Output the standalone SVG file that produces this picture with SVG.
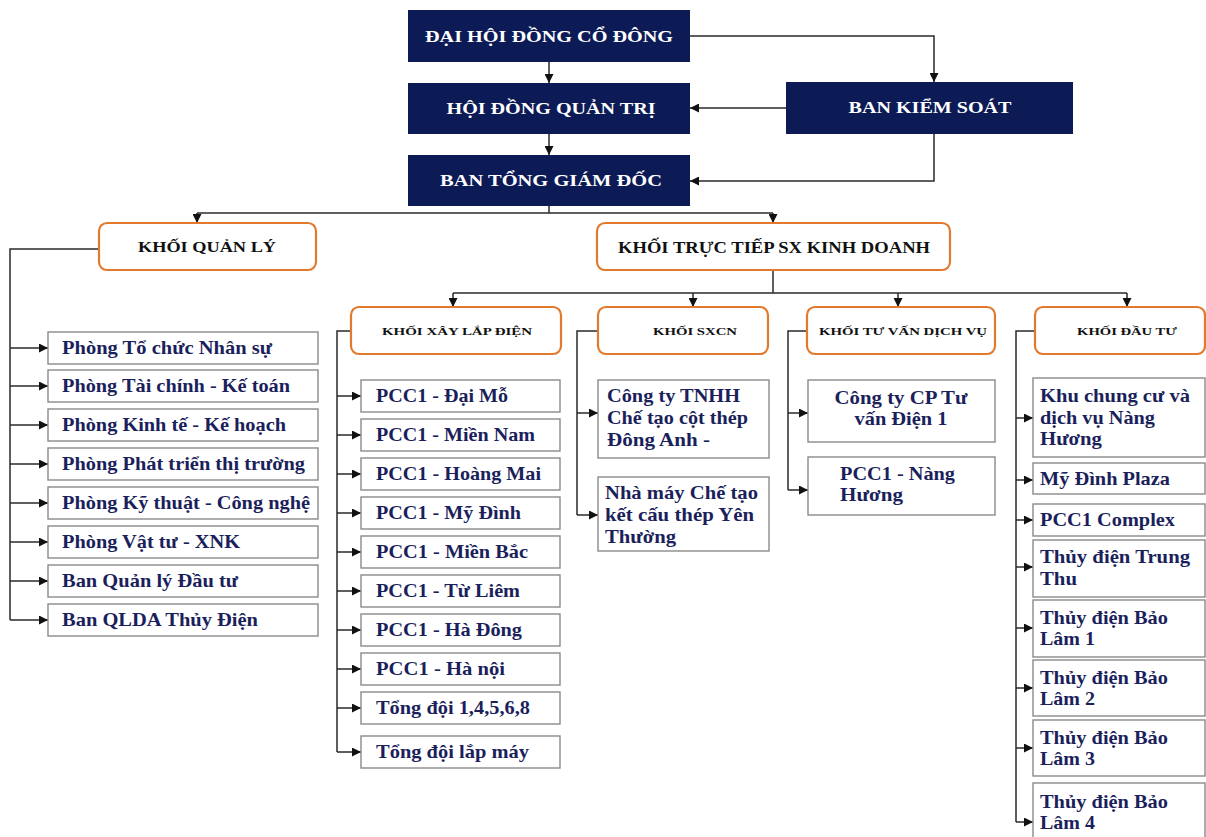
<svg xmlns="http://www.w3.org/2000/svg" width="1206" height="837" viewBox="0 0 1206 837">
<style>
.bg{fill:#ffffff}
.navy rect{fill:#0c1b56}
.navy text{fill:#ffffff;font-family:"Liberation Serif",serif;font-weight:bold;font-size:17px;text-anchor:middle}
.ob rect{fill:#ffffff;stroke:#e27a2d;stroke-width:2.2}
.ob text{fill:#111111;font-family:"Liberation Serif",serif;font-weight:bold;text-anchor:middle}
.cb rect{fill:#ffffff;stroke:#8a8a8a;stroke-width:1.4}
.cb text{fill:#1b1f5c;font-family:"Liberation Serif",serif;font-weight:bold;font-size:19px}
.conn path{fill:none;stroke:#2a2a2a;stroke-width:1.5}
</style>
<defs>
<marker id="ah" viewBox="0 0 10 10" refX="10" refY="5" markerWidth="9" markerHeight="9" markerUnits="userSpaceOnUse" orient="auto">
<path d="M0,0 L10,5 L0,10 z" fill="#111111"/>
</marker>
</defs>
<rect class="bg" x="0" y="0" width="1206" height="837"/>

<g class="conn">
<path d="M690,36 H934 V82" marker-end="url(#ah)"/>
<path d="M549,62 V83" marker-end="url(#ah)"/>
<path d="M549,134 V155" marker-end="url(#ah)"/>
<path d="M786,108 H690" marker-end="url(#ah)"/>
<path d="M934,134 V181 H690" marker-end="url(#ah)"/>
<path d="M549,206 V213"/>
<path d="M197,213 H773"/>
<path d="M197,213 V223" marker-end="url(#ah)"/>
<path d="M773,213 V223" marker-end="url(#ah)"/>
<path d="M773,270 V293"/>
<path d="M453,293 H1127"/>
<path d="M453,293 V307" marker-end="url(#ah)"/>
<path d="M693,293 V307" marker-end="url(#ah)"/>
<path d="M898,293 V307" marker-end="url(#ah)"/>
<path d="M1127,293 V307" marker-end="url(#ah)"/>
<path d="M99,249 H10 V620"/>
<path d="M10,348 H48" marker-end="url(#ah)"/>
<path d="M10,386 H48" marker-end="url(#ah)"/>
<path d="M10,425 H48" marker-end="url(#ah)"/>
<path d="M10,464 H48" marker-end="url(#ah)"/>
<path d="M10,503 H48" marker-end="url(#ah)"/>
<path d="M10,542 H48" marker-end="url(#ah)"/>
<path d="M10,581 H48" marker-end="url(#ah)"/>
<path d="M10,620 H48" marker-end="url(#ah)"/>
<path d="M351,331 H337 V752"/>
<path d="M337,396 H361" marker-end="url(#ah)"/>
<path d="M337,435 H361" marker-end="url(#ah)"/>
<path d="M337,474 H361" marker-end="url(#ah)"/>
<path d="M337,513 H361" marker-end="url(#ah)"/>
<path d="M337,552 H361" marker-end="url(#ah)"/>
<path d="M337,591 H361" marker-end="url(#ah)"/>
<path d="M337,630 H361" marker-end="url(#ah)"/>
<path d="M337,669 H361" marker-end="url(#ah)"/>
<path d="M337,708 H361" marker-end="url(#ah)"/>
<path d="M337,752 H361" marker-end="url(#ah)"/>
<path d="M598,331 H577 V515"/>
<path d="M577,413 H598" marker-end="url(#ah)"/>
<path d="M577,515 H598" marker-end="url(#ah)"/>
<path d="M807,331 H788 V490"/>
<path d="M788,413 H808" marker-end="url(#ah)"/>
<path d="M788,490 H808" marker-end="url(#ah)"/>
<path d="M1035,331 H1016 V822"/>
<path d="M1016,418 H1033" marker-end="url(#ah)"/>
<path d="M1016,480 H1033" marker-end="url(#ah)"/>
<path d="M1016,520 H1033" marker-end="url(#ah)"/>
<path d="M1016,567 H1033" marker-end="url(#ah)"/>
<path d="M1016,628 H1033" marker-end="url(#ah)"/>
<path d="M1016,688 H1033" marker-end="url(#ah)"/>
<path d="M1016,748 H1033" marker-end="url(#ah)"/>
<path d="M1016,822 H1033" marker-end="url(#ah)"/>
</g>

<g id="dhdcd" class="navy"><rect x="408" y="10" width="282" height="52"/><text x="549" y="42" textLength="248" lengthAdjust="spacingAndGlyphs">ĐẠI HỘI ĐỒNG CỔ ĐÔNG</text></g>
<g id="hdqt" class="navy"><rect x="408" y="83" width="282" height="51"/><text x="551" y="114" textLength="209" lengthAdjust="spacingAndGlyphs">HỘI ĐỒNG QUẢN TRỊ</text></g>
<g id="btgd" class="navy"><rect x="408" y="155" width="282" height="51"/><text x="551" y="186" textLength="222" lengthAdjust="spacingAndGlyphs">BAN TỔNG GIÁM ĐỐC</text></g>
<g id="bks" class="navy"><rect x="786" y="82" width="287" height="52"/><text x="930" y="113" textLength="163" lengthAdjust="spacingAndGlyphs">BAN KIỂM SOÁT</text></g>

<g id="kql" class="ob"><rect x="99" y="223" width="217" height="47" rx="8"/><text x="207" y="252" font-size="15" textLength="138" lengthAdjust="spacingAndGlyphs">KHỐI QUẢN LÝ</text></g>
<g id="ktt" class="ob"><rect x="597" y="223" width="353" height="47" rx="8"/><text x="774" y="253" font-size="16" textLength="312" lengthAdjust="spacingAndGlyphs">KHỐI TRỰC TIẾP SX KINH DOANH</text></g>
<g id="kxl" class="ob"><rect x="351" y="307" width="210" height="47" rx="8"/><text x="457" y="335" font-size="11" textLength="150" lengthAdjust="spacingAndGlyphs">KHỐI XÂY LẮP ĐIỆN</text></g>
<g id="ksxcn" class="ob"><rect x="598" y="307" width="170" height="47" rx="8"/><text x="695" y="335" font-size="11" textLength="84" lengthAdjust="spacingAndGlyphs">KHỐI SXCN</text></g>
<g id="ktv" class="ob"><rect x="807" y="307" width="188" height="47" rx="8"/><text x="903" y="335" font-size="11" textLength="168" lengthAdjust="spacingAndGlyphs">KHỐI TƯ VẤN DỊCH VỤ</text></g>
<g id="kdt" class="ob"><rect x="1035" y="307" width="170" height="47" rx="8"/><text x="1127" y="335" font-size="11" textLength="100" lengthAdjust="spacingAndGlyphs">KHỐI ĐẦU TƯ</text></g>

<g id="q1" class="cb"><rect x="48" y="332" width="270" height="32"/><text x="62" y="354" textLength="210" lengthAdjust="spacingAndGlyphs">Phòng Tổ chức Nhân sự</text></g>
<g id="q2" class="cb"><rect x="48" y="370" width="270" height="32"/><text x="62" y="392" textLength="228" lengthAdjust="spacingAndGlyphs">Phòng Tài chính - Kế toán</text></g>
<g id="q3" class="cb"><rect x="48" y="409" width="270" height="32"/><text x="62" y="431" textLength="224" lengthAdjust="spacingAndGlyphs">Phòng Kinh tế - Kế hoạch</text></g>
<g id="q4" class="cb"><rect x="48" y="448" width="270" height="32"/><text x="62" y="470" textLength="243" lengthAdjust="spacingAndGlyphs">Phòng Phát triển thị trường</text></g>
<g id="q5" class="cb"><rect x="48" y="487" width="270" height="32"/><text x="62" y="509" textLength="248" lengthAdjust="spacingAndGlyphs">Phòng Kỹ thuật - Công nghệ</text></g>
<g id="q6" class="cb"><rect x="48" y="526" width="270" height="32"/><text x="62" y="548" textLength="178" lengthAdjust="spacingAndGlyphs">Phòng Vật tư - XNK</text></g>
<g id="q7" class="cb"><rect x="48" y="565" width="270" height="32"/><text x="62" y="587" textLength="176" lengthAdjust="spacingAndGlyphs">Ban Quản lý Đầu tư</text></g>
<g id="q8" class="cb"><rect x="48" y="604" width="270" height="32"/><text x="62" y="626" textLength="196" lengthAdjust="spacingAndGlyphs">Ban QLDA Thủy Điện</text></g>

<g id="x1" class="cb"><rect x="361" y="380" width="199" height="32"/><text x="376" y="402" textLength="132" lengthAdjust="spacingAndGlyphs">PCC1 - Đại Mỗ</text></g>
<g id="x2" class="cb"><rect x="361" y="419" width="199" height="32"/><text x="376" y="441" textLength="159" lengthAdjust="spacingAndGlyphs">PCC1 - Miền Nam</text></g>
<g id="x3" class="cb"><rect x="361" y="458" width="199" height="32"/><text x="376" y="480" textLength="165" lengthAdjust="spacingAndGlyphs">PCC1 - Hoàng Mai</text></g>
<g id="x4" class="cb"><rect x="361" y="497" width="199" height="32"/><text x="376" y="519" textLength="145" lengthAdjust="spacingAndGlyphs">PCC1 - Mỹ Đình</text></g>
<g id="x5" class="cb"><rect x="361" y="536" width="199" height="32"/><text x="376" y="558" textLength="152" lengthAdjust="spacingAndGlyphs">PCC1 - Miền Bắc</text></g>
<g id="x6" class="cb"><rect x="361" y="575" width="199" height="32"/><text x="376" y="597" textLength="144" lengthAdjust="spacingAndGlyphs">PCC1 - Từ Liêm</text></g>
<g id="x7" class="cb"><rect x="361" y="614" width="199" height="32"/><text x="376" y="636" textLength="146" lengthAdjust="spacingAndGlyphs">PCC1 - Hà Đông</text></g>
<g id="x8" class="cb"><rect x="361" y="653" width="199" height="32"/><text x="376" y="675" textLength="129" lengthAdjust="spacingAndGlyphs">PCC1 - Hà nội</text></g>
<g id="x9" class="cb"><rect x="361" y="692" width="199" height="32"/><text x="376" y="714" textLength="154" lengthAdjust="spacingAndGlyphs">Tổng đội 1,4,5,6,8</text></g>
<g id="x10" class="cb"><rect x="361" y="736" width="199" height="32"/><text x="376" y="758" textLength="153" lengthAdjust="spacingAndGlyphs">Tổng đội lắp máy</text></g>

<g id="s1" class="cb"><rect x="598" y="380" width="171" height="78"/>
<text x="607" y="402" textLength="133" lengthAdjust="spacingAndGlyphs">Công ty TNHH</text>
<text x="607" y="424" textLength="141" lengthAdjust="spacingAndGlyphs">Chế tạo cột thép</text>
<text x="607" y="446" textLength="103" lengthAdjust="spacingAndGlyphs">Đông Anh -</text></g>
<g id="s2" class="cb"><rect x="598" y="477" width="171" height="74"/>
<text x="605" y="499" textLength="153" lengthAdjust="spacingAndGlyphs">Nhà máy Chế tạo</text>
<text x="605" y="521" textLength="149" lengthAdjust="spacingAndGlyphs">kết cấu thép Yên</text>
<text x="605" y="543" textLength="71" lengthAdjust="spacingAndGlyphs">Thường</text></g>

<g id="t1" class="cb"><rect x="808" y="380" width="187" height="62"/>
<text x="901" y="404" text-anchor="middle" textLength="133" lengthAdjust="spacingAndGlyphs">Công ty CP Tư</text>
<text x="901" y="425" text-anchor="middle" textLength="93" lengthAdjust="spacingAndGlyphs">vấn Điện 1</text></g>
<g id="t2" class="cb"><rect x="808" y="457" width="187" height="58"/>
<text x="840" y="480" textLength="115" lengthAdjust="spacingAndGlyphs">PCC1 - Nàng</text>
<text x="840" y="501" textLength="63" lengthAdjust="spacingAndGlyphs">Hương</text></g>

<g id="d1" class="cb"><rect x="1033" y="378" width="172" height="79"/>
<text x="1040" y="402" textLength="150" lengthAdjust="spacingAndGlyphs">Khu chung cư và</text>
<text x="1040" y="424" textLength="115" lengthAdjust="spacingAndGlyphs">dịch vụ Nàng</text>
<text x="1040" y="445" textLength="62" lengthAdjust="spacingAndGlyphs">Hương</text></g>
<g id="d2" class="cb"><rect x="1033" y="463" width="172" height="31"/><text x="1040" y="485" textLength="130" lengthAdjust="spacingAndGlyphs">Mỹ Đình Plaza</text></g>
<g id="d3" class="cb"><rect x="1033" y="504" width="172" height="32"/><text x="1040" y="526" textLength="135" lengthAdjust="spacingAndGlyphs">PCC1 Complex</text></g>
<g id="d4" class="cb"><rect x="1033" y="540" width="172" height="57"/>
<text x="1040" y="563" textLength="150" lengthAdjust="spacingAndGlyphs">Thủy điện Trung</text>
<text x="1040" y="585" textLength="37" lengthAdjust="spacingAndGlyphs">Thu</text></g>
<g id="d5" class="cb"><rect x="1033" y="600" width="172" height="57"/>
<text x="1040" y="624" textLength="128" lengthAdjust="spacingAndGlyphs">Thủy điện Bảo</text>
<text x="1040" y="645" textLength="55" lengthAdjust="spacingAndGlyphs">Lâm 1</text></g>
<g id="d6" class="cb"><rect x="1033" y="660" width="172" height="56"/>
<text x="1040" y="684" textLength="128" lengthAdjust="spacingAndGlyphs">Thủy điện Bảo</text>
<text x="1040" y="705" textLength="55" lengthAdjust="spacingAndGlyphs">Lâm 2</text></g>
<g id="d7" class="cb"><rect x="1033" y="720" width="172" height="56"/>
<text x="1040" y="744" textLength="128" lengthAdjust="spacingAndGlyphs">Thủy điện Bảo</text>
<text x="1040" y="765" textLength="55" lengthAdjust="spacingAndGlyphs">Lâm 3</text></g>
<g id="d8" class="cb"><rect x="1033" y="783" width="172" height="60"/>
<text x="1040" y="808" textLength="128" lengthAdjust="spacingAndGlyphs">Thủy điện Bảo</text>
<text x="1040" y="829" textLength="55" lengthAdjust="spacingAndGlyphs">Lâm 4</text></g>
</svg>
